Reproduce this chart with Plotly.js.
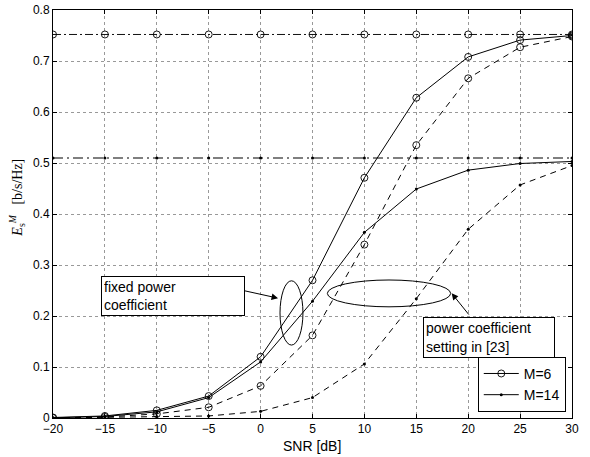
<!DOCTYPE html>
<html><head><meta charset="utf-8">
<script src="https://cdn.plot.ly/plotly-3.0.1.min.js"></script>
<style>body{margin:0;background:#fff}#plot{width:590px;height:457px}</style>
</head><body><div id="plot"></div>
<script>
const snr = [-20,-15,-10,-5,0,5,10,15,20,25,30];
const m6Fixed   = [0.001,0.004,0.015,0.043,0.120,0.270,0.471,0.628,0.708,0.741,0.750];
const m14Fixed  = [0.0005,0.003,0.012,0.040,0.110,0.229,0.364,0.449,0.486,0.499,0.503];
const m6Ref23   = [0.000,0.002,0.008,0.021,0.063,0.162,0.340,0.535,0.666,0.727,0.748];
const m14Ref23  = [0.000,0.001,0.003,0.004,0.013,0.040,0.106,0.234,0.370,0.457,0.495];
const m6Bound   = [0.752,0.752,0.752,0.752,0.752,0.752,0.752,0.752,0.752,0.752,0.752];
const m14Bound  = [0.510,0.510,0.510,0.510,0.510,0.510,0.510,0.510,0.510,0.510,0.510];
const xTicks = [-20,-15,-10,-5,0,5,10,15,20,25,30];
const xTickText = ['\u221220','\u221215','\u221210','\u22125','0','5','10','15','20','25','30'];
const yTicks = [0,0.1,0.2,0.3,0.4,0.5,0.6,0.7,0.8];
const yTickText = ['0','0.1','0.2','0.3','0.4','0.5','0.6','0.7','0.8'];

const circ = {symbol:'circle-open', size:7, color:'#000', line:{width:0.9,color:'#000'}};
const dot = {symbol:'circle', size:3, color:'#000'};
const traces = [
  {x:snr, y:m6Bound, mode:'lines+markers', line:{color:'#111',width:1,dash:'8px,3px,2px,3px'}, marker:circ, showlegend:false},
  {x:snr, y:m14Bound, mode:'lines+markers', line:{color:'#555',width:1.5,dash:'10px,4px,2px,4px'}, marker:dot, showlegend:false},
  {x:snr, y:m6Ref23, mode:'lines+markers', line:{color:'#000',width:1,dash:'6px,5px'}, marker:circ, showlegend:false},
  {x:snr, y:m14Ref23, mode:'lines+markers', line:{color:'#000',width:1,dash:'6px,5px'}, marker:dot, showlegend:false},
  {x:snr, y:m6Fixed, mode:'lines+markers', name:'M=6', line:{color:'#000',width:1}, marker:circ},
  {x:snr, y:m14Fixed, mode:'lines+markers', name:'M=14', line:{color:'#000',width:1}, marker:dot}
];

const axisCommon = {showline:true, linecolor:'#000', linewidth:1, mirror:'ticks', ticks:'inside', ticklen:4, tickcolor:'#000',
  showgrid:true, gridcolor:'#999', griddash:'dot', gridwidth:1, zeroline:false,
  tickfont:{family:'Liberation Sans, Arial, sans-serif', size:12, color:'#000'}};

const layout = {
  width:590, height:457,
  margin:{l:53, r:18, t:10, b:39},
  paper_bgcolor:'#fff', plot_bgcolor:'#fff',
  font:{family:'Liberation Sans, Arial, sans-serif', color:'#000'},
  xaxis:Object.assign({}, axisCommon, {range:[-20,30], tickvals:xTicks, ticktext:xTickText}),
  yaxis:Object.assign({}, axisCommon, {range:[0,0.8], tickvals:yTicks, ticktext:yTickText}),
  legend:{x:0.988, y:0.015, xanchor:'right', yanchor:'bottom', bgcolor:'#fff', bordercolor:'#000', borderwidth:1,
    font:{size:14}, tracegroupgap:0, itemwidth:35},
  shapes:[
    {type:'circle', xref:'x', yref:'y', x0:1.87, x1:4.08, y0:0.143, y1:0.269, line:{color:'#000',width:1}},
    {type:'circle', xref:'x', yref:'y', x0:6.43, x1:18.31, y0:0.218, y1:0.2706, line:{color:'#000',width:1}}
  ],
  annotations:[
    {x:0.499, y:-0.0679, xref:'paper', yref:'paper', xanchor:'center', yanchor:'middle', showarrow:false,
     text:'SNR [dB]', font:{size:14, color:'#000'}},
    {x:-0.0694, y:0.54, xref:'paper', yref:'paper', xanchor:'center', yanchor:'middle', showarrow:false, textangle:-90,
     text:'<i>E</i><sub>s</sub><sup><i>M</i></sup>\u00a0\u00a0\u00a0[b/s/Hz]', font:{family:'Liberation Serif, DejaVu Serif, serif', size:14, color:'#000'}},
    {x:1.68, y:0.235, ax:-1.89, ay:0.251, axref:'x', ayref:'y', xref:'x', yref:'y', text:'', showarrow:true,
     arrowhead:2, arrowsize:1.3, arrowwidth:1, arrowcolor:'#000'},
    {x:18.41, y:0.2445, ax:20.17, ay:0.2, axref:'x', ayref:'y', xref:'x', yref:'y', text:'', showarrow:true,
     arrowhead:2, arrowsize:1.3, arrowwidth:1, arrowcolor:'#000'},
    {x:-8.44, y:0.24, xref:'x', yref:'y', text:'fixed power<br>coefficient', showarrow:false, align:'left',
     width:138, height:34, borderpad:2, bordercolor:'#000', borderwidth:1, bgcolor:'#fff',
     font:{size:14, color:'#000'}},
    {x:21.96, y:0.157, xref:'x', yref:'y', text:'power coefficient<br>setting in [23]', showarrow:false, align:'left',
     width:126, height:35, borderpad:2, bordercolor:'#000', borderwidth:1, bgcolor:'#fff',
     font:{size:14, color:'#000'}}
  ]
};
Plotly.newPlot('plot', traces, layout, {staticPlot:true});
</script></body></html>
